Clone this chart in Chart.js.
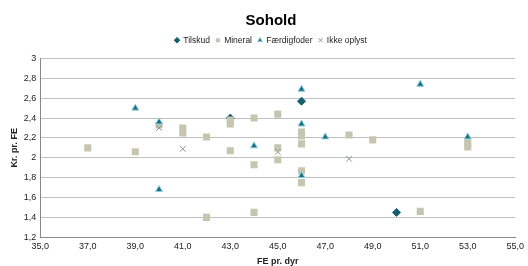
<!DOCTYPE html>
<html>
<head>
<meta charset="utf-8">
<script src="https://cdn.jsdelivr.net/npm/chart.js@4/dist/chart.umd.min.js"></script>
<style>
  html, body { margin: 0; padding: 0; background: #fff; }
  #wrap { width: 528px; height: 266px; }
</style>
</head>
<body>
<div id="wrap"><canvas id="sohold" width="528" height="266"></canvas></div>
<script>
// Sohold - Kr. pr. FE vs FE pr. dyr, grouped by feed type
const seriesNames = ["Tilskud", "Mineral", "Færdigfoder", "Ikke oplyst"];

const tilskudX = [43, 46, 50];
const tilskudY = [2.40, 2.57, 1.45];

const mineralX = [37, 39, 40, 41, 41, 42, 42, 43, 43, 43, 44, 44, 44, 45, 45, 45, 46, 46, 46, 46, 46, 48, 49, 51, 53, 53];
const mineralY = [2.10, 2.06, 2.33, 2.30, 2.25, 2.21, 1.40, 2.38, 2.34, 2.07, 2.40, 1.93, 1.45, 2.44, 2.10, 1.98, 2.26, 2.22, 2.14, 1.87, 1.75, 2.23, 2.18, 1.46, 2.15, 2.11];

const faerdigX = [39, 40, 40, 44, 46, 46, 46, 47, 51, 53];
const faerdigY = [2.50, 2.36, 1.68, 2.12, 2.69, 2.34, 1.82, 2.21, 2.74, 2.21];

const ikkeX = [40, 41, 45, 48];
const ikkeY = [2.30, 2.09, 2.06, 1.99];

const xTickLabels = ["35,0", "37,0", "39,0", "41,0", "43,0", "45,0", "47,0", "49,0", "51,0", "53,0", "55,0"];
const yTickLabels = ["1,2", "1,4", "1,6", "1,8", "2", "2,2", "2,4", "2,6", "2,8", "3"];

function toPoints(xs, ys) {
  return xs.map((x, i) => ({ x: x, y: ys[i] }));
}

const FONT = "'Liberation Sans', Arial, sans-serif";

// push the plot area a bit further below the legend
const legendMargin = {
  id: "legendMargin",
  beforeInit(chart) {
    const fit = chart.legend.fit;
    chart.legend.fit = function () {
      fit.bind(chart.legend)();
      this.height += 4;
    };
  },
};

const ctx = document.getElementById("sohold").getContext("2d");
new Chart(ctx, {
  type: "scatter",
  data: {
    datasets: [
      {
        label: seriesNames[0],
        data: toPoints(tilskudX, tilskudY),
        pointStyle: "rectRot",
        pointRadius: 4,
        backgroundColor: "#15606e",
        borderColor: "#15606e",
        borderWidth: 1,
        order: 4,
      },
      {
        label: seriesNames[1],
        data: toPoints(mineralX, mineralY),
        pointStyle: "rect",
        pointRadius: 5,
        backgroundColor: "#c6c5b0",
        borderColor: "#c6c5b0",
        borderWidth: 0,
        order: 3,
      },
      {
        label: seriesNames[2],
        data: toPoints(faerdigX, faerdigY),
        pointStyle: "triangle",
        pointRadius: 4,
        backgroundColor: "#1a6f82",
        borderColor: "#8fcfe0",
        borderWidth: 1,
        order: 2,
      },
      {
        label: seriesNames[3],
        data: toPoints(ikkeX, ikkeY),
        pointStyle: "crossRot",
        pointRadius: 4,
        backgroundColor: "#8a9a8c",
        borderColor: "#8a9a8c",
        borderWidth: 1,
        order: 1,
      },
    ],
  },
  plugins: [legendMargin],
  options: {
    responsive: false,
    animation: false,
    layout: { padding: { left: 9, right: -5, top: 0, bottom: 0 } },
    plugins: {
      title: {
        display: true,
        text: "Sohold",
        color: "#000",
        font: { family: FONT, size: 15, weight: "bold" },
        padding: { top: 12, bottom: 0 },
      },
      legend: {
        display: true,
        position: "top",
        labels: {
          usePointStyle: true,
          boxWidth: 4,
          boxHeight: 4,
          padding: 6,
          color: "#222",
          font: { family: FONT, size: 8.5 },
          sort: (a, b) => a.datasetIndex - b.datasetIndex,
        },
      },
      tooltip: { enabled: false },
    },
    scales: {
      x: {
        type: "linear",
        min: 35,
        max: 55,
        ticks: {
          stepSize: 2,
          color: "#222",
          font: { family: FONT, size: 9 },
          padding: 4,
          callback: (v) => xTickLabels[Math.round((v - 35) / 2)],
        },
        grid: { display: false, drawTicks: false },
        border: { display: true, color: "#888" },
        title: {
          display: true,
          text: "FE pr. dyr",
          color: "#222",
          font: { family: FONT, size: 9, weight: "bold", lineHeight: 1 },
          padding: { top: 1, bottom: 0 },
        },
      },
      y: {
        type: "linear",
        min: 1.2,
        max: 3,
        ticks: {
          stepSize: 0.2,
          color: "#222",
          font: { family: FONT, size: 9 },
          padding: 4,
          callback: (v) => yTickLabels[Math.round((v - 1.2) / 0.2)],
        },
        grid: { color: "#c0c0c0", drawTicks: false },
        border: { display: true, color: "#888" },
        title: {
          display: true,
          text: "Kr. pr. FE",
          color: "#222",
          font: { family: FONT, size: 9, weight: "bold" },
          padding: { top: 0, bottom: 0 },
        },
      },
    },
  },
});
</script>
</body>
</html>
